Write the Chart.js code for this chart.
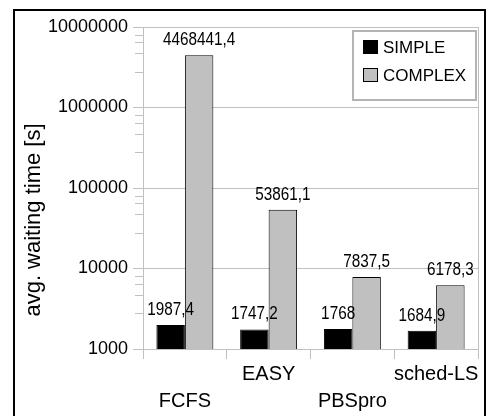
<!DOCTYPE html>
<html>
<head>
<meta charset="utf-8">
<script src="https://cdn.jsdelivr.net/npm/chart.js@4.4.1/dist/chart.umd.min.js"></script>
<style>
  html, body { margin: 0; padding: 0; background: #fff; overflow: hidden; }
  #frame { position: absolute; left: 13px; top: 9px; width: 469px; height: 440px; border: 2px solid #000; }
  #chart { position: absolute; left: 0; top: 0; }
</style>
</head>
<body>
<div id="frame"></div>
<canvas id="chart" width="488" height="416"></canvas>
<script>
// data
const categories = [['', 'FCFS'], ['EASY', ''], ['', 'PBSpro'], ['sched-LS', '']];
const simpleValues = [1987.4, 1747.2, 1768, 1684.9];
const complexValues = [4468441.4, 53861.1, 7837.5, 6178.3];
const yTicks = [1000, 10000, 100000, 1000000, 10000000];
const minorSteps = [2.8, 4.7, 6.5, 8];

const FONT = 'Liberation Sans, Arial, sans-serif';
const GRID = '#c0c0c0';

// gray frame round the plot area + short minor ticks on the y axis
const plotFrame = {
  id: 'plotFrame',
  beforeDatasetsDraw(chart) {
    const { ctx, chartArea: a } = chart;
    const y = chart.scales.y;
    ctx.save();
    ctx.strokeStyle = GRID;
    ctx.lineWidth = 1;
    ctx.strokeRect(Math.round(a.left) + 0.5, Math.round(a.top) + 0.5,
      Math.round(a.right - a.left), Math.round(a.bottom - a.top));
    ctx.beginPath();
    yTicks.slice(0, -1).forEach(d => {
      minorSteps.forEach(m => {
        const py = Math.round(y.getPixelForValue(d * m)) + 0.5;
        ctx.moveTo(a.left - 8, py);
        ctx.lineTo(a.left, py);
      });
    });
    ctx.stroke();
    ctx.restore();
  }
};

// value labels over the bars, slightly narrow like the original
const valueLabels = {
  id: 'valueLabels',
  afterDatasetsDraw(chart) {
    const { ctx } = chart;
    ctx.save();
    ctx.fillStyle = '#000';
    ctx.font = '18px ' + FONT;
    ctx.textAlign = 'center';
    ctx.textBaseline = 'alphabetic';
    chart.data.datasets.forEach((ds, i) => {
      chart.getDatasetMeta(i).data.forEach((bar, j) => {
        const txt = String(ds.data[j]).replace('.', ',');
        ctx.save();
        ctx.translate(bar.x, bar.y - 10);
        ctx.scale(0.85, 1);
        ctx.fillText(txt, 0, 0);
        ctx.restore();
      });
    });
    ctx.restore();
  }
};

// boxed legend in the top right corner, and the rotated y title
const boxLegend = {
  id: 'boxLegend',
  afterDraw(chart) {
    const { ctx, chartArea: a } = chart;
    const x0 = a.right - 125, y0 = a.top + 4, w = 123, h = 69;
    ctx.save();
    ctx.fillStyle = '#fff';
    ctx.fillRect(x0, y0, w, h);
    ctx.strokeStyle = '#b4b4b4';
    ctx.lineWidth = 2;
    ctx.strokeRect(x0, y0, w, h);
    ctx.font = '17px ' + FONT;
    ctx.textBaseline = 'middle';
    chart.data.datasets.forEach((ds, i) => {
      const sy = y0 + 9 + i * 28;
      ctx.fillStyle = ds.backgroundColor;
      ctx.fillRect(x0 + 10, sy, 15, 14);
      ctx.strokeStyle = '#000';
      ctx.lineWidth = 1;
      ctx.strokeRect(x0 + 10.5, sy + 0.5, 14, 13);
      ctx.fillStyle = '#000';
      ctx.fillText(ds.label, x0 + 30, sy + 8);
    });

    ctx.translate(34, 220);
    ctx.rotate(-Math.PI / 2);
    ctx.textAlign = 'center';
    ctx.font = '22px ' + FONT;
    ctx.fillText('avg. waiting time [s]', 0, 0);
    ctx.restore();
  }
};

new Chart(document.getElementById('chart'), {
  type: 'bar',
  data: {
    labels: categories,
    datasets: [
      { label: 'SIMPLE', data: simpleValues, backgroundColor: '#000000', borderColor: '#000', borderWidth: 1 },
      { label: 'COMPLEX', data: complexValues, backgroundColor: '#c0c0c0', borderColor: '#000', borderWidth: 1 }
    ]
  },
  options: {
    responsive: false,
    animation: false,
    devicePixelRatio: 1,
    categoryPercentage: 0.68,
    barPercentage: 1,
    layout: { padding: { top: 27, right: 10, left: 0, bottom: 0 } },
    plugins: { legend: { display: false }, tooltip: { enabled: false } },
    scales: {
      x: {
        grid: { offset: true, drawOnChartArea: false, color: GRID, tickLength: 10 },
        border: { color: GRID },
        ticks: { color: '#000', font: { family: FONT, size: 20, lineHeight: 1.35 }, padding: 2, maxRotation: 0, autoSkip: false },
        afterFit(s) { s.height = 67; }
      },
      y: {
        type: 'logarithmic',
        min: 1000,
        max: 10000000,
        grid: { color: GRID, tickLength: 10 },
        border: { color: GRID },
        ticks: { color: '#000', font: { family: FONT, size: 18 }, padding: 5, callback: v => String(v) },
        afterBuildTicks(s) { s.ticks = yTicks.map(v => ({ value: v })); },
        afterFit(s) { s.width = 143; }
      }
    }
  },
  plugins: [plotFrame, valueLabels, boxLegend]
});
</script>
</body>
</html>
